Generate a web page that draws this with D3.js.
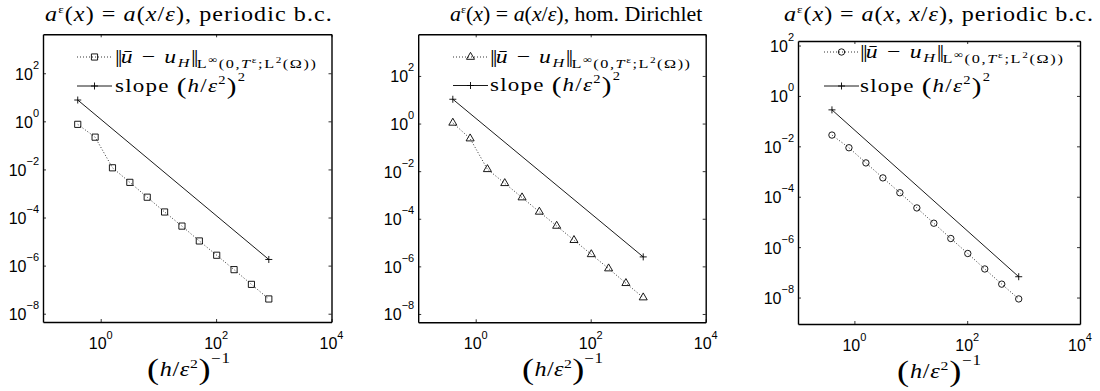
<!DOCTYPE html>
<html>
<head>
<meta charset="utf-8">
<script src="https://cdn.jsdelivr.net/npm/d3@7"></script>
<style>
body { margin: 0; background: #fff; }
svg { display: block; }
</style>
</head>
<body>
<div id="chart"></div>
<script>
// Values
var hInv = [0.4, 0.8, 1.6, 3.2, 6.4, 12.8, 25.6, 51.2, 102.4, 204.8, 409.6, 819.2];
var errPeriodic = [0.75, 0.22, 0.0117, 2.9e-3, 7e-4, 1.7e-4, 4.4e-5, 1.06e-5, 2.7e-6, 6.8e-7, 1.66e-7, 4.1e-8];
var errDirichlet = [1.07, 0.234, 0.012, 3.1e-3, 7.8e-4, 1.95e-4, 5e-5, 1.26e-5, 3.2e-6, 8.1e-7, 1.96e-7, 4.9e-8];
var errTwoScale = [0.028, 8.8e-3, 2.2e-3, 5.6e-4, 1.44e-4, 3.6e-5, 8.9e-6, 2.2e-6, 5.6e-7, 1.36e-7, 3.4e-8, 8.8e-9];

var slopeX = [0.4, 819.2];
var slopePeriodic = [7.7, 1.8e-6];
var slopeDirichlet = [10.5, 2.5e-6];
var slopeTwoScale = [0.28, 6.7e-8];

var xTickExp = [0, 2, 4];
var yTickExp = [-8, -6, -4, -2, 0, 2];

var titleBc = ["periodic b.c.", "hom. Dirichlet", "periodic b.c."];

// Layout of the three axes boxes and their texts (pixels)
var panels = [
    {l: 43, r: 331.5, t: 34.3, b: 322, yLo: -8.345, yHi: 3.62,
        title: [45, 332], legX: 77, leg1: [115, 316], leg2: [115, 245], legY1: 57, legY2: 86, xLab: [147, 230],
        err: errPeriodic, slope: slopePeriodic, marker: "square", twoScale: false, bc: titleBc[0]},
    {l: 418.2, r: 705.7, t: 34.3, b: 322.3, yLo: -8.35, yHi: 3.75,
        title: [450, 703], legX: 453, leg1: [490, 690], leg2: [490, 620], legY1: 57, legY2: 85.5, xLab: [522, 603],
        err: errDirichlet, slope: slopeDirichlet, marker: "triangle", twoScale: false, bc: titleBc[1]},
    {l: 798, r: 1080, t: 41, b: 324, yLo: -9.05, yHi: 2.18,
        title: [784, 1093], legX: 824, leg1: [860, 1063], leg2: [860, 990], legY1: 52, legY2: 86, xLab: [897, 981],
        err: errTwoScale, slope: slopeTwoScale, marker: "circle", twoScale: true, bc: titleBc[2]}
];

var serif = "'Liberation Serif', 'DejaVu Serif', serif";
var sans = "'Liberation Sans', Arial, sans-serif";

var svg = d3.select("#chart").append("svg")
    .attr("width", 1100)
    .attr("height", 391);

/**
 * Appends tspans to a text element; b is the baseline offset of each part
 */
function richText(text, parts) {
    var cur = 0;
    parts.forEach(function (p) {
        var o = p[1] || {};
        var b = o.b || 0;
        var t = text.append("tspan").text(p[0]);
        if (o.i) t.attr("font-style", "italic");
        if (o.s) t.attr("font-size", o.s);
        if (o.ls !== undefined) t.attr("letter-spacing", o.ls);
        if (b !== cur) t.attr("dy", b - cur);
        cur = b;
    });
}

/**
 * Serif (LaTeX-like) text widened to span [x0, x1]: some letter spacing, some stretch
 */
function fitText(g, span, y, size, parts) {
    var wrap = g.append("g");
    var t = wrap.append("text")
        .attr("x", 0).attr("y", y)
        .attr("font-family", serif)
        .attr("font-size", size);
    richText(t, parts);
    var target = span[1] - span[0];
    var bb = t.node().getBBox();
    var n = t.node().getNumberOfChars();
    var ls = Math.max(0, (target / 1.2 - bb.width) / n);
    t.attr("letter-spacing", ls);
    bb = t.node().getBBox();
    var k = target / (bb.width - ls);
    wrap.attr("transform", "translate(" + span[0] + ",0) scale(" + k + ",1) translate(" + (-bb.x) + ",0)");
}

function markerPath(type) {
    if (type === "square") return d3.symbol(d3.symbolSquare, 38)();
    if (type === "triangle") return d3.symbol(d3.symbolTriangle, 28)();
    return d3.symbol(d3.symbolCircle, 32)();
}

var plusPath = "M-3.5,0H3.5M0,-3.5V3.5";
var norm = ["||", {ls: -1.5}];

function drawPanel(p) {
    var x = d3.scaleLog().domain([0.1, 1e4]).range([p.l, p.r]);
    var y = d3.scaleLog().domain([Math.pow(10, p.yLo), Math.pow(10, p.yHi)]).range([p.b, p.t]);
    var xTicks = xTickExp.map(function (e) { return Math.pow(10, e); });
    var yTicks = yTickExp.map(function (e) { return Math.pow(10, e); });

    var g = svg.append("g");

    // box with inward ticks on all four sides
    g.append("g").attr("transform", "translate(0," + p.b + ")")
        .call(d3.axisBottom(x).tickValues(xTicks).tickSize(-3).tickSizeOuter(0).tickFormat(""));
    g.append("g").attr("transform", "translate(0," + p.t + ")")
        .call(d3.axisTop(x).tickValues(xTicks).tickSize(-3).tickSizeOuter(0).tickFormat(""));
    g.append("g").attr("transform", "translate(" + p.l + ",0)")
        .call(d3.axisLeft(y).tickValues(yTicks).tickSize(-3).tickSizeOuter(0).tickFormat(""));
    g.append("g").attr("transform", "translate(" + p.r + ",0)")
        .call(d3.axisRight(y).tickValues(yTicks).tickSize(-3).tickSizeOuter(0).tickFormat(""));
    g.selectAll(".domain").attr("stroke", "#000").attr("stroke-width", 1.4);
    g.selectAll(".tick line").attr("stroke", "#000").attr("stroke-width", 0.8);

    // tick labels 10^k
    xTickExp.forEach(function (e) {
        var t = g.append("text")
            .attr("x", x(Math.pow(10, e)))
            .attr("y", p.b + 27)
            .attr("text-anchor", "middle")
            .attr("font-family", sans)
            .attr("font-size", 16);
        richText(t, [["10"], [String(e).replace("-", "\u2212"), {s: 11, b: -10}]]);
    });
    yTickExp.forEach(function (e) {
        var t = g.append("text")
            .attr("x", p.l - 4)
            .attr("y", y(Math.pow(10, e)) + 6.5)
            .attr("text-anchor", "end")
            .attr("font-family", sans)
            .attr("font-size", 16);
        richText(t, [["10"], [String(e).replace("-", "\u2212"), {s: 11, b: -11}]]);
    });

    // slope reference line
    var slopePts = slopeX.map(function (v, i) { return [v, p.slope[i]]; });
    g.append("path")
        .attr("d", d3.line().x(function (d) { return x(d[0]); }).y(function (d) { return y(d[1]); })(slopePts))
        .attr("fill", "none")
        .attr("stroke", "#000")
        .attr("stroke-width", 0.9);
    g.selectAll(".plus").data(slopePts).join("path")
        .attr("transform", function (d) { return "translate(" + x(d[0]) + "," + y(d[1]) + ")"; })
        .attr("d", plusPath)
        .attr("stroke", "#000")
        .attr("stroke-width", 0.9);

    // error curve
    var errPts = hInv.map(function (v, i) { return [v, p.err[i]]; });
    g.append("path")
        .attr("d", d3.line().x(function (d) { return x(d[0]); }).y(function (d) { return y(d[1]); })(errPts))
        .attr("fill", "none")
        .attr("stroke", "#000")
        .attr("stroke-width", 0.8)
        .attr("stroke-dasharray", "1,2");
    g.selectAll(".mk").data(errPts).join("path")
        .attr("transform", function (d) { return "translate(" + x(d[0]) + "," + y(d[1]) + ")"; })
        .attr("d", markerPath(p.marker))
        .attr("fill", "none")
        .attr("stroke", "#000")
        .attr("stroke-width", 0.9);

    // legend
    var lw = 35;
    g.append("line")
        .attr("x1", p.legX).attr("x2", p.legX + lw)
        .attr("y1", p.legY1).attr("y2", p.legY1)
        .attr("stroke", "#000").attr("stroke-width", 0.8).attr("stroke-dasharray", "1,2");
    g.append("path")
        .attr("transform", "translate(" + (p.legX + lw / 2) + "," + p.legY1 + ")")
        .attr("d", markerPath(p.marker))
        .attr("fill", "none").attr("stroke", "#000").attr("stroke-width", 0.9);
    g.append("line")
        .attr("x1", p.legX).attr("x2", p.legX + lw)
        .attr("y1", p.legY2).attr("y2", p.legY2)
        .attr("stroke", "#000").attr("stroke-width", 0.9);
    g.append("path")
        .attr("transform", "translate(" + (p.legX + lw / 2) + "," + p.legY2 + ")")
        .attr("d", plusPath)
        .attr("stroke", "#000").attr("stroke-width", 0.9);

    fitText(g, p.leg1, p.legY1 + 6, 19, [norm, ["\u016b", {i: 1}], [" \u2212 "], ["u", {i: 1}], ["H", {i: 1, s: 13, b: 4}],
        norm, ["L", {s: 13, b: 5}], ["\u221e", {s: 10, b: 0}], ["(0,", {s: 13, b: 5}],
        ["T", {i: 1, s: 13, b: 5}], ["\u03b5", {s: 9, b: 0}], [";L", {s: 13, b: 5}], ["2", {s: 9, b: 0}],
        ["(\u03a9))", {s: 13, b: 5}]]);

    fitText(g, p.leg2, p.legY2 + 6, 19, [["slope "], ["(", {s: 24, b: 2}], ["h", {i: 1}], ["/"], ["\u03b5", {i: 1}],
        ["2", {s: 12, b: -8}], [")", {s: 24, b: 2}], ["2", {s: 12, b: -11}]]);

    // title
    var inner = p.twoScale ? [["x", {i: 1}], [", "], ["x", {i: 1}]] : [["x", {i: 1}]];
    fitText(g, p.title, 21.5, 20, [["a", {i: 1}], ["\u03b5", {s: 11, b: -8}], ["("], ["x", {i: 1}], [") = "], ["a", {i: 1}], ["("]]
        .concat(inner)
        .concat([["/"], ["\u03b5", {i: 1}], ["), " + p.bc]]));

    // x-axis label
    fitText(g, p.xLab, p.b + 54, 20, [["(", {s: 30, b: 3}], ["h", {i: 1}], ["/"], ["\u03b5", {i: 1}], ["2", {s: 13, b: -8}],
        [")", {s: 30, b: 3}], ["\u22121", {s: 14, b: -13}]]);
}

panels.forEach(drawPanel);
</script>
</body>
</html>
